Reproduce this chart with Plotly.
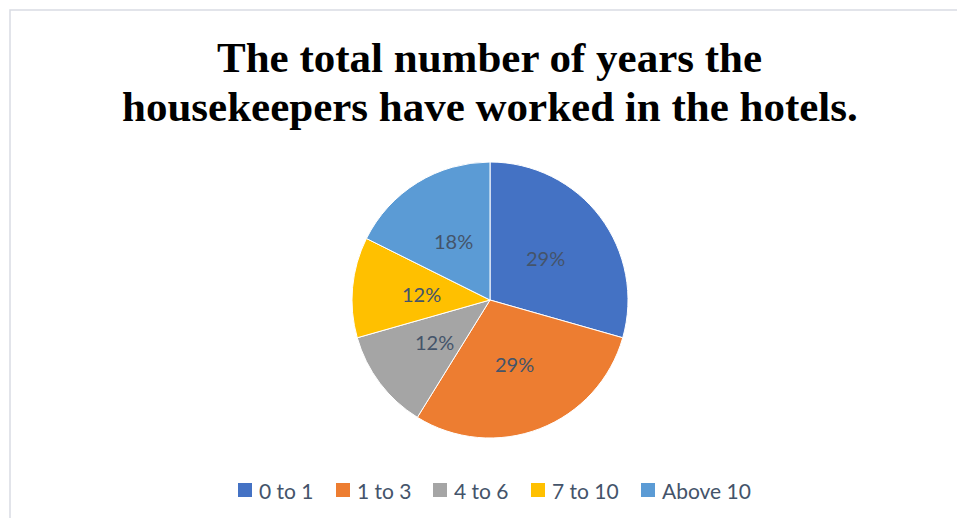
import math
import plotly.graph_objects as go

categories = ["0 to 1", "1 to 3", "4 to 6", "7 to 10", "Above 10"]
counts = [5, 5, 2, 2, 3]
colors = ["#4472C4", "#ED7D31", "#A5A5A5", "#FFC000", "#5B9BD5"]
title_lines = ["The total number of years the", "housekeepers have worked in the hotels."]

W, H = 957, 518
cx, cy, r = 490, 300, 138
label_color = "#44546A"
sans = "Lato, Open Sans, sans-serif"

fig = go.Figure(go.Pie(
    labels=categories,
    values=counts,
    sort=False,
    direction="clockwise",
    rotation=0,
    marker=dict(colors=colors, line=dict(color="white", width=1)),
    textinfo="none",
    hoverinfo="label+percent",
    showlegend=False,
    domain=dict(x=[(cx - r) / W, (cx + r) / W], y=[(H - cy - r) / H, (H - cy + r) / H]),
))

annotations = []
shapes = []

# percentage labels placed at half radius along each slice's mid-angle
total = sum(counts)
cum = 0
for v in counts:
    mid = (cum + v / 2) / total * 2 * math.pi
    cum += v
    px = cx + 0.5 * r * math.sin(mid)
    py = cy - 0.5 * r * math.cos(mid)
    annotations.append(dict(
        x=px / W, y=(H - py) / H, xref="paper", yref="paper",
        text=f"{round(v / total * 100)}%", showarrow=False,
        font=dict(family=sans, size=20, color=label_color),
        xanchor="center", yanchor="middle",
    ))

# title, two lines
title_y = [57, 106]
for line, ty in zip(title_lines, title_y):
    annotations.append(dict(
        x=cx / W, y=(H - ty) / H, xref="paper", yref="paper",
        text=f"<b>{line}</b>", showarrow=False,
        font=dict(family="Liberation Serif, Times New Roman, serif", size=43, color="black"),
        xanchor="center", yanchor="middle",
    ))

# legend drawn by hand
legend_x = [238, 336, 433, 531, 641]
legend_y = 490
sq = 14
for name, col, lx in zip(categories, colors, legend_x):
    shapes.append(dict(type="rect", xref="paper", yref="paper",
                       x0=lx / W, x1=(lx + sq) / W,
                       y0=(H - legend_y - sq / 2) / H, y1=(H - legend_y + sq / 2) / H,
                       fillcolor=col, line=dict(width=0)))
    annotations.append(dict(
        x=(lx + sq + 5) / W, y=(H - legend_y) / H, xref="paper", yref="paper",
        text=name, showarrow=False, xanchor="left", yanchor="middle",
        font=dict(family=sans, size=21, color=label_color),
    ))

shapes.append(dict(type="rect", xref="paper", yref="paper",
                   x0=10 / W, x1=1.05, y0=-0.05, y1=(H - 10) / H,
                   line=dict(color="#D9DCE3", width=1.5), fillcolor="rgba(0,0,0,0)"))

fig.update_layout(
    width=W, height=H,
    margin=dict(l=0, r=0, t=0, b=0),
    paper_bgcolor="white",
    annotations=annotations,
    shapes=shapes,
)

fig.write_html("out.html")
